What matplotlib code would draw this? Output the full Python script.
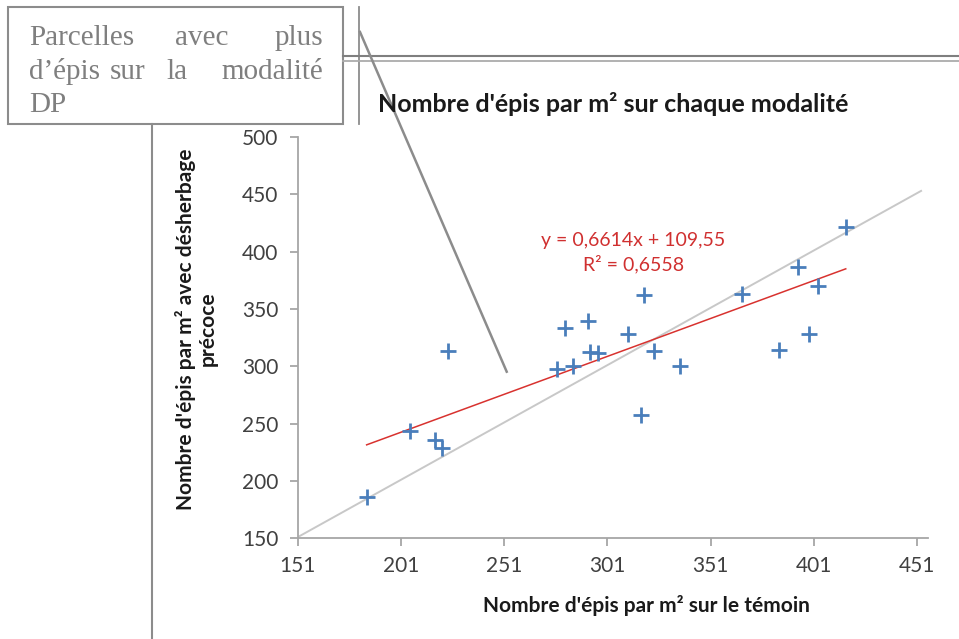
import numpy as np
import matplotlib
matplotlib.use('Agg')
import matplotlib.pyplot as plt
from matplotlib.lines import Line2D
from matplotlib.patches import Rectangle

# epis / m2 : temoin (x) vs desherbage precoce (y)
temoin = [184.4, 205.4, 217.5, 221.1, 224.0, 276.5, 280.5, 284.2, 291.8, 292.6, 296.3,
          311.2, 317.3, 319.0, 323.6, 336.2, 366.1, 384.2, 393.5, 398.7, 403.2, 416.5]
precoce = [186.1, 244.0, 235.3, 228.6, 313.5, 297.6, 333.7, 300.4, 339.5, 312.8, 312.0,
           328.0, 257.6, 361.8, 313.0, 300.4, 362.7, 314.0, 386.4, 328.0, 369.9, 421.4]
pente, ordonnee = 0.6614, 109.55
r2_txt = 'R² = 0,6558'
eq_txt = 'y = 0,6614x + 109,55'
xticks = [151, 201, 251, 301, 351, 401, 451]
yticks = [150, 200, 250, 300, 350, 400, 450, 500]
bissectrice = [150, 453]

plt.rcParams['font.family'] = ['Lato', 'DejaVu Sans']

W, H = 959, 639
fig = plt.figure(figsize=(W / 100, H / 100), dpi=100)

def fx(px):
    return px / W

def fy(py):
    return 1 - py / H

ax = fig.add_axes([fx(297.7), fy(538.3), (927.7 - 297.7) / W, (538.3 - 137) / H])
ax.set_xlim(151, 456.2)
ax.set_ylim(150, 500)

ax.plot(bissectrice, bissectrice, color='#c8c8c8', lw=1.4, zorder=1)
xs = np.array([min(temoin), max(temoin)])
ax.plot(xs, pente * xs + ordonnee, color='#d8322f', lw=1.1, zorder=2)
ax.plot(temoin, precoce, ls='none', marker='+', ms=11.5, mew=2.0, color='#4a7ebb', zorder=3)

ax.set_xticks(xticks)
ax.set_yticks(yticks)
for s in ['top', 'right']:
    ax.spines[s].set_visible(False)
for s in ['left', 'bottom']:
    ax.spines[s].set_color('#a6a6a6')
    ax.spines[s].set_linewidth(1.3)
ax.tick_params(colors='#a6a6a6', labelcolor='#404040', labelsize=15, length=6, width=1.3)
ax.tick_params(axis='y', pad=8)
ax.tick_params(axis='x', pad=7)

ax.text(313.5, 409.5, eq_txt, color='#d03030', fontsize=14, ha='center', va='center')
ax.text(313.8, 389.5, r2_txt, color='#d03030', fontsize=14, ha='center', va='center')

fig.text(fx(613), fy(104), "Nombre d'épis par m² sur chaque modalité", fontsize=18, fontweight='bold',
         ha='center', va='center', color='#1a1a1a')
fig.text(fx(646.5), fy(606), "Nombre d'épis par m² sur le témoin", fontsize=15, fontweight='bold',
         ha='center', va='center', color='#1a1a1a')
fig.text(fx(196), fy(329), "Nombre d'épis par m² avec désherbage\nprécoce", fontsize=15, fontweight='bold',
         ha='center', va='center', rotation=90, multialignment='center', color='#1a1a1a', linespacing=1.1)

# encadre / commentaire
gris = '#8c8c8c'
fig.patches.append(Rectangle((fx(8.3), fy(124.3)), (342.7 - 8.3) / W, (124.3 - 6.7) / H,
                             transform=fig.transFigure, fill=False, ec=gris, lw=1.5))
for (x0, y0, x1, y1, c, lw) in [(359, 7, 359, 124, gris, 1.3),
                                 (343, 56, 959, 56, '#7f7f7f', 1.5),
                                 (343, 60.5, 959, 60.5, '#ababab', 1.3),
                                 (151.7, 124.3, 151.7, 639, gris, 1.5),
                                 (360, 32, 506.7, 371.7, gris, 1.8)]:
    fig.add_artist(Line2D([fx(x0), fx(x1)], [fy(y0), fy(y1)], transform=fig.transFigure, color=c, lw=lw))

mots = [("Parcelles", 29, 45, 'left'), ("avec", 175, 45, 'left'), ("plus", 322.7, 45, 'right'),
        ("d’épis", 29, 79, 'left'), ("sur", 110, 79, 'left'), ("la", 166.7, 79, 'left'),
        ("modalité", 322.7, 79, 'right'), ("DP", 29, 112.5, 'left')]
for m, x, y, ha in mots:
    fig.text(fx(x), fy(y), m, family='Liberation Serif', fontsize=21, color='#7f7f7f', ha=ha, va='baseline')

fig.savefig('out.png', dpi=100)
